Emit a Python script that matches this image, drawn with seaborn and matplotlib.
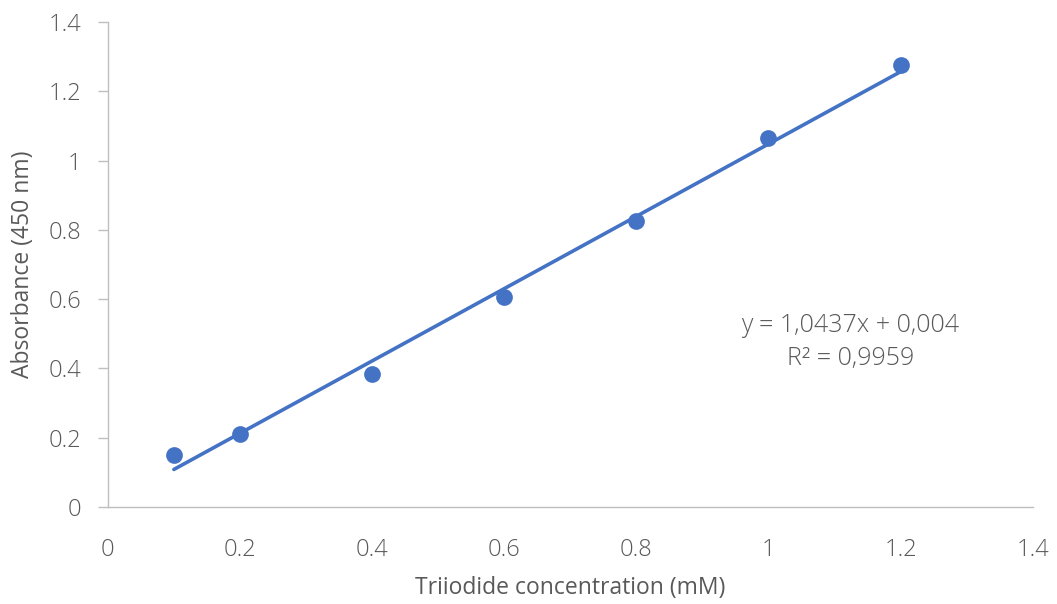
import matplotlib
matplotlib.use("Agg")
import matplotlib.pyplot as plt
import seaborn as sns
import numpy as np
import pandas as pd

conc = [0.1, 0.2, 0.4, 0.6, 0.8, 1.0, 1.2]
absorb = [0.151, 0.212, 0.385, 0.606, 0.826, 1.064, 1.276]
slope = 1.0437
intercept = 0.004
eq_text = "y = 1,0437x + 0,004"
r2_text = "R² = 0,9959"
xticks = [0, 0.2, 0.4, 0.6, 0.8, 1, 1.2, 1.4]
xtick_labels = ["0", "0.2", "0.4", "0.6", "0.8", "1", "1.2", "1.4"]
yticks = [0, 0.2, 0.4, 0.6, 0.8, 1, 1.2, 1.4]
ytick_labels = ["0", "0.2", "0.4", "0.6", "0.8", "1", "1.2", "1.4"]

sns.set_style("white")
plt.rcParams['font.family'] = ['Open Sans', 'DejaVu Sans']

df = pd.DataFrame({"x": conc, "y": absorb})
color = "#4472C4"
grey = "#595959"

fig = plt.figure(figsize=(10.57, 6.04), dpi=100)
ax = fig.add_axes([0.102, 0.1606, 0.875, 0.803])

sns.scatterplot(data=df, x="x", y="y", ax=ax, color=color, s=145, edgecolor=color, linewidth=0, zorder=3)
xl = np.array([min(conc), max(conc)])
sns.lineplot(x=xl, y=slope * xl + intercept, ax=ax, color=color, linewidth=2.6, zorder=2)

ax.set_xlim(0, 1.4)
ax.set_ylim(0, 1.4)
ax.set_xticks(xticks)
ax.set_xticklabels(xtick_labels)
ax.set_yticks(yticks)
ax.set_yticklabels(ytick_labels)

for s in ["top", "right"]:
    ax.spines[s].set_visible(False)
for s in ["left", "bottom"]:
    ax.spines[s].set_color("#BFBFBF")
    ax.spines[s].set_linewidth(1.0)

ax.tick_params(axis="y", which="both", left=True, length=7, width=1, color="#BFBFBF",
               labelsize=17, labelcolor=grey, pad=12)
ax.tick_params(axis="x", which="both", bottom=False, labelsize=17, labelcolor=grey, pad=19)
for lab in ax.get_xticklabels() + ax.get_yticklabels():
    lab.set_fontweight("light")

ax.set_xlabel("Triiodide concentration (mM)", fontsize=16.5, color=grey, labelpad=10)
ax.set_ylabel("Absorbance (450 nm)", fontsize=16.5, color=grey, labelpad=10)

ax.text(1.124, 0.525, eq_text, ha="center", va="center", fontsize=18, color=grey, fontweight="light")
ax.text(1.124, 0.43, r2_text, ha="center", va="center", fontsize=18, color=grey, fontweight="light")

ax.grid(False)
fig.savefig("out.png", dpi=100)
